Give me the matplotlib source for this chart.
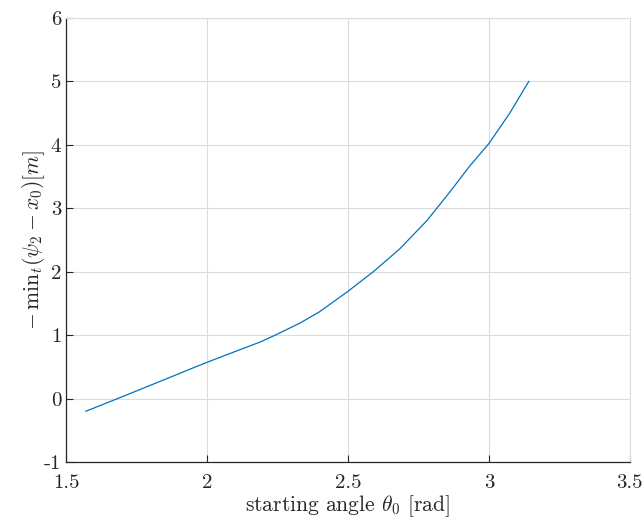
import matplotlib
matplotlib.use('Agg')
from matplotlib import pyplot as plt

# values
theta0 = [1.5708, 1.70, 1.85, 1.971, 2.046, 2.117, 2.188, 2.247, 2.33,
          2.40, 2.50, 2.59, 2.684, 2.781, 2.862, 2.931, 3.00, 3.074, 3.1416]
neg_min = [-0.20, 0.03, 0.30, 0.52, 0.65, 0.77, 0.89, 1.01, 1.19,
           1.37, 1.69, 2.00, 2.36, 2.81, 3.26, 3.66, 4.02, 4.50, 5.00]

xticks = [1.5, 2, 2.5, 3, 3.5]
xtick_labels = ['1.5', '2', '2.5', '3', '3.5']
yticks = [-1, 0, 1, 2, 3, 4, 5, 6]
ytick_labels = ['-1', '0', '1', '2', '3', '4', '5', '6']

plt.rcParams['font.family'] = 'serif'
plt.rcParams['font.serif'] = ['cmr10', 'DejaVu Serif']
plt.rcParams['mathtext.fontset'] = 'cm'

fig = plt.figure(figsize=(6.44, 5.22), dpi=100)
ax = fig.add_axes([0.1025, 0.115, 0.8755, 0.8505])

ax.plot(theta0, neg_min, '-', color='#0072BD', linewidth=0.9)

ax.set_xlim(1.5, 3.5)
ax.set_ylim(-1, 6)
ax.set_xticks(xticks)
ax.set_xticklabels(xtick_labels)
ax.set_yticks(yticks)
ax.set_yticklabels(ytick_labels)

ax.grid(True, color='#dcdcdc', linewidth=0.8)
ax.set_axisbelow(True)
for side in ['top', 'right']:
    ax.spines[side].set_color('#dcdcdc')
    ax.spines[side].set_linewidth(0.8)
for side in ['left', 'bottom']:
    ax.spines[side].set_color('#262626')
    ax.spines[side].set_linewidth(0.9)
ax.tick_params(direction='in', length=5, width=0.8, colors='#262626',
               labelsize=15, top=False, right=False)
ax.tick_params(axis='x', pad=8.5)

ax.set_xlabel(r'starting angle $\theta_0$ [rad]', fontsize=15.5,
              color='#262626', labelpad=1)
ax.set_ylabel(r'$-\:\mathrm{min}_t(\psi_2 - x_0)[m]$', fontsize=15.5,
              color='#262626', labelpad=-2.5)

plt.savefig('out.png', dpi=100)
plt.close()
